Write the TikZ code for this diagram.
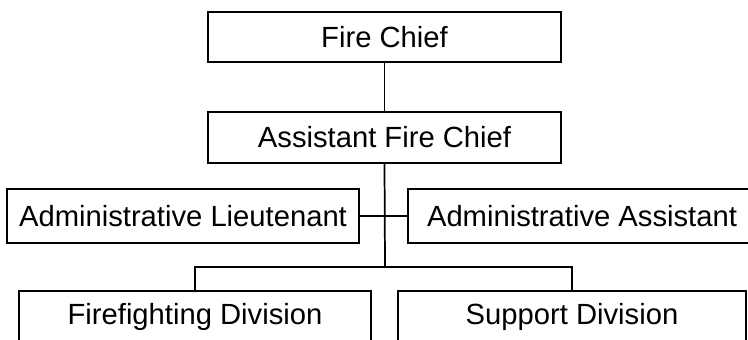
\documentclass[tikz,border=0pt]{standalone}
\usepackage{fontspec}
\setmainfont{Liberation Sans}
\begin{document}
\begin{tikzpicture}[x=0.75pt,y=-0.75pt,
  box/.style={draw,line width=1.3pt,inner sep=0pt,font=\fontsize{21.9}{26}\selectfont},
  conn/.style={line width=1.3pt}]
\clip (0,0) rectangle (748,339);
\useasboundingbox (0,0) rectangle (748,339);
\fill[white] (0,0) rectangle (748,339);
\node[box,minimum width=353*0.75pt,minimum height=50*0.75pt] (chief) at (384.5,37) {Fire Chief};
\node[box,minimum width=353*0.75pt,minimum height=51*0.75pt] (asst) at (384.5,137.5) {Assistant Fire Chief};
\node[box,minimum width=352*0.75pt,minimum height=54*0.75pt] (lt) at (183,216) {Administrative Lieutenant};
\node[box,minimum width=348*0.75pt,minimum height=54*0.75pt] (aa) at (582,216) {Administrative Assistant};
\node[box,minimum width=352*0.75pt,minimum height=52*0.75pt] (ff) at (195,317) {Firefighting Division};
\node[box,minimum width=348*0.75pt,minimum height=52*0.75pt] (sd) at (572,317) {Support Division};
\coordinate (j) at (385,267);
\draw[conn] (chief.south) -- (asst.north);
\draw[conn] (asst.south) -- (j);
\draw[conn] (lt.east) -- (aa.west);
\draw[conn] (ff.north) |- (j) -| (sd.north);
\end{tikzpicture}
\end{document}
